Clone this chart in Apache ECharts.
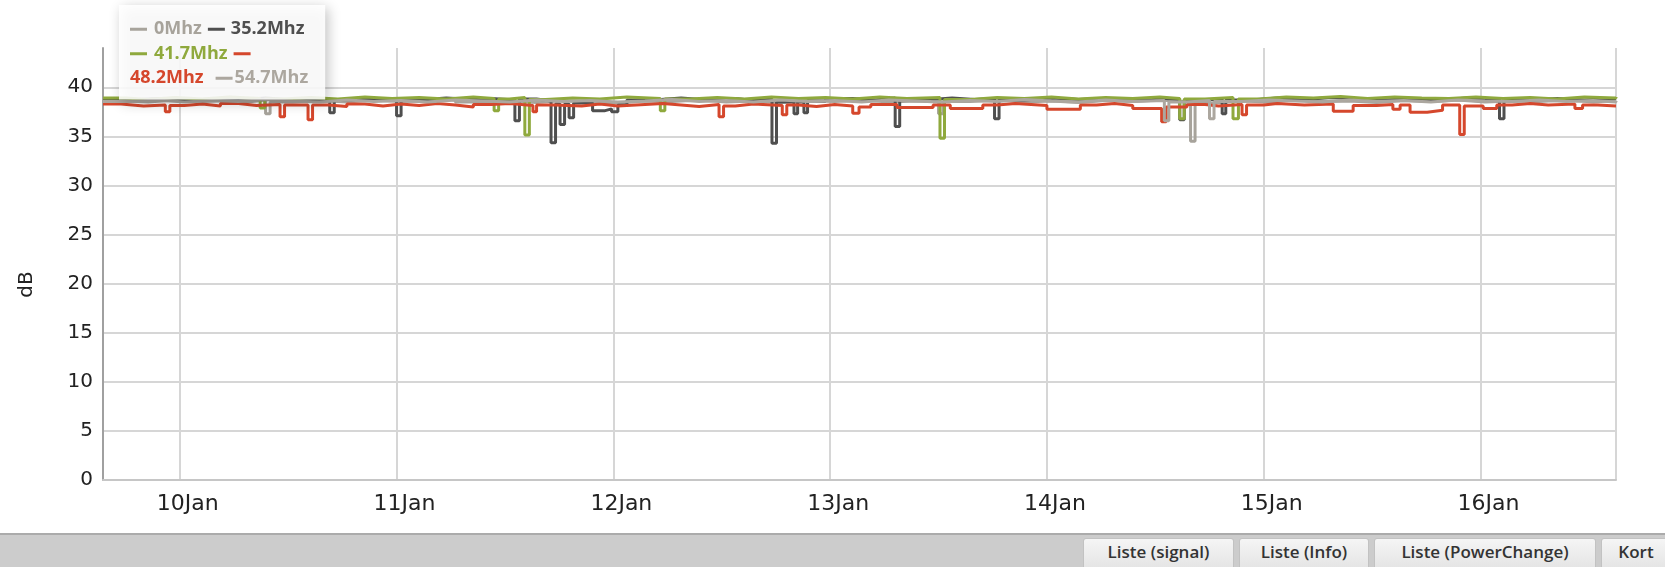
<!DOCTYPE html>
<html>
<head>
<meta charset="utf-8">
<title>dB</title>
<script src="https://cdn.jsdelivr.net/npm/echarts@6/dist/echarts.min.js"></script>
<style>
  html, body { margin: 0; padding: 0; background: #fff; }
  #page { position: relative; width: 1665px; height: 567px; overflow: hidden; }
  #chart { position: absolute; left: 0; top: 0; width: 1665px; height: 533px; }
  .bar {
    position: absolute; left: 0; top: 533px; width: 1665px; height: 34px;
    background: #cccccc; border-top: 2px solid #ababab; box-sizing: border-box;
  }
  .btn {
    position: absolute; top: 3px; height: 34px; line-height: 25px;
    box-sizing: border-box; text-align: center;
    font-family: 'Open Sans', sans-serif; font-weight: 600; font-size: 17px; color: #333;
    background: linear-gradient(#f5f5f5, #e3e3e3);
    border: 1px solid #c2c2c2; border-radius: 3px 3px 0 0;
  }
</style>
</head>
<body>
<div id="page">
  <div id="chart"></div>
  <div class="bar">
    <div class="btn" style="left:1083px;width:151px">Liste (signal)</div>
    <div class="btn" style="left:1239px;width:130px">Liste (Info)</div>
    <div class="btn" style="left:1374px;width:222px">Liste (PowerChange)</div>
    <div class="btn" style="left:1601px;width:70px">Kort</div>
  </div>
</div>
<script>
// ===== 系列 =====
const seriesNames  = ['0Mhz', '35.2Mhz', '41.7Mhz', '48.2Mhz', '54.7Mhz']
const seriesColors = ['#a7a39b', '#4f4f4f', '#8fa93d', '#d5472c', '#aca79f']
const monthNames   = ['Jan', 'Feb', 'Mar', 'Apr', 'May', 'Jun', 'Jul', 'Aug', 'Sep', 'Oct', 'Nov', 'Dec']

// x range: 9 Jan 15:30 -> 16 Jan 15:00
const startTime = new Date(2015, 0, 9, 15, 30).getTime()
const endTime   = new Date(2015, 0, 16, 15, 0).getTime()

// [hours after start, dB]
const data0Mhz = [
  [0, 38.6], [2.5, 38.5], [5, 38.7], [8, 38.55], [11, 38.65], [14, 38.5], [16, 38.7], [18, 37.3],
  [18.5, 38.5], [21, 38.65], [24, 38.5], [27, 38.7], [30, 38.55], [33, 38.6], [36, 38.75], [39, 38.5],
  [42, 38.6], [45, 38.45], [48, 38.65], [51, 38.5], [54, 38.4], [57, 38.6], [60, 38.55], [63, 38.7],
  [66, 38.5], [69, 38.6], [72, 38.45], [75, 38.65], [78, 38.55], [81, 38.7], [84, 38.5], [87, 38.6],
  [90, 38.5], [92.5, 37.3], [93, 38.55], [96, 38.7], [99, 38.5], [102, 38.6], [105, 38.45],
  [108, 38.65], [111, 38.55], [114, 38.7], [117, 38.5], [120.4, 34.5], [120.9, 38.4], [123, 38.6],
  [126, 38.5], [129, 38.7], [132, 38.55], [135, 38.6], [138, 38.45], [141, 38.65], [144, 38.55],
  [147, 38.7], [150, 38.5], [153, 38.6], [156, 38.55], [159, 38.7], [162, 38.5], [165, 38.65],
  [167.5, 38.6]
]
const data35Mhz = [
  [0, 38.7], [3, 38.85], [6, 38.65], [9, 38.8], [12, 38.7], [15, 38.9], [18, 38.7], [21, 38.8],
  [25.1, 37.4], [25.6, 38.7], [28, 38.85], [30.5, 38.7], [32.5, 37.1], [33, 38.7], [35, 38.9],
  [38, 38.75], [41, 38.85], [43, 38.7], [45.6, 36.6], [46.1, 38.8], [48, 38.6], [49.6, 34.35],
  [50.1, 38.3], [50.6, 36.2], [51.1, 38.3], [51.6, 36.9], [52.1, 38.4], [54.2, 37.6], [55.5, 37.8],
  [56.3, 37.5], [57, 38.2], [58, 38.7], [61, 38.9], [64, 38.7], [67, 38.85], [70, 38.65], [72, 38.8],
  [74.06, 34.3], [74.56, 38.5], [76.5, 37.3], [76.9, 38.5], [77.6, 37.4], [78, 38.6], [80, 38.85],
  [83, 38.7], [85.5, 38.9], [87.7, 36.0], [88.2, 38.7], [91, 38.9], [94, 38.75], [96.5, 38.85],
  [98.7, 36.8], [99.2, 38.7], [102, 38.9], [105, 38.75], [108, 38.85], [111, 38.7], [114, 38.9],
  [117, 38.75], [119.2, 36.7], [119.7, 38.7], [122, 38.8], [123.9, 37.3], [124.3, 38.7], [127, 38.9],
  [130, 38.75], [133, 38.95], [136, 38.8], [139, 38.7], [142, 38.85], [145, 38.7], [148, 38.9],
  [151, 38.75], [153, 38.85], [154.6, 36.8], [155.1, 38.7], [158, 38.85], [161, 38.7], [164, 38.85],
  [167.5, 38.8]
]
const data41Mhz = [
  [0, 38.9], [2.5, 38.75], [5, 38.95], [8, 38.8], [11, 39.0], [14, 38.85], [17.4, 37.9], [17.9, 38.8],
  [20, 38.95], [23, 38.8], [26, 39.0], [29, 38.85], [32, 38.95], [35, 38.8], [38, 39.0], [41, 38.85],
  [43.3, 37.6], [43.8, 38.8], [45, 38.95], [46.7, 35.15], [47.2, 38.75], [49, 38.9], [52, 38.8],
  [55, 39.0], [58, 38.85], [61.7, 37.6], [62.2, 38.8], [65, 38.95], [68, 38.8], [71, 39.0],
  [74, 38.85], [77, 38.95], [80, 38.8], [83, 39.0], [86, 38.85], [89, 38.95], [92.66, 34.8],
  [93.16, 38.75], [96, 38.95], [99, 38.85], [102, 39.0], [105, 38.8], [108, 38.95], [111, 38.85],
  [114, 39.0], [117, 38.85], [119.2, 36.8], [119.7, 38.8], [122, 38.95], [125.1, 36.8], [125.7, 38.8],
  [128, 39.0], [131, 38.9], [134, 39.05], [137, 38.85], [140, 39.0], [143, 38.9], [146, 38.85],
  [149, 39.0], [152, 38.85], [155, 38.95], [158, 38.8], [161, 39.0], [164, 38.9], [167.5, 39.0]
]
const data48Mhz = [
  [0, 38.3], [2, 38.1], [4.5, 38.2], [6.9, 37.5], [7.4, 38.15], [9, 38.3], [11, 38.1], [13, 38.35],
  [15, 38.15], [17, 38.25], [19.6, 37.0], [20.1, 38.2], [22.7, 36.7], [23.2, 38.2], [25, 38.05],
  [27, 38.3], [29, 38.1], [31, 38.3], [33, 38.15], [35, 38.35], [37, 38.2], [39, 38.0], [41, 38.25],
  [43, 38.35], [45, 38.15], [47.6, 37.5], [48, 38.2], [50, 38.1], [53, 38.3], [55, 38.1], [57, 38.25],
  [60, 38.35], [62, 38.2], [64, 38.05], [66, 38.25], [68.2, 37.0], [68.7, 38.1], [70, 38.3],
  [72, 38.15], [75.2, 37.2], [75.7, 38.2], [77, 38.05], [79, 38.25], [81, 38.1], [83, 37.35],
  [83.7, 38.0], [85, 38.25], [87.9, 37.95], [91.9, 38.2], [93.8, 37.85], [97.4, 38.2], [99, 38.35],
  [101, 38.15], [104.5, 37.75], [108.2, 38.2], [110, 38.35], [112, 38.15], [114, 37.85], [117.2, 36.5],
  [117.7, 38.0], [120, 38.25], [122, 38.1], [123.5, 38.25], [126.1, 37.2], [126.6, 38.2],
  [128.5, 38.35], [130, 38.2], [133, 38.3], [136.2, 37.55], [138.4, 38.15], [141, 38.25],
  [142.8, 37.75], [143.6, 38.2], [144.7, 37.45], [146.6, 37.65], [148.3, 38.2], [150.2, 35.2],
  [150.7, 38.1], [152.8, 37.85], [154.3, 38.2], [156, 38.35], [158, 38.2], [160, 38.3],
  [162.95, 37.85], [163.8, 38.2], [165.5, 38.1], [167.5, 38.15]
]
const data54Mhz = [
  [0, 38.55], [3, 38.7], [6, 38.5], [9, 38.65], [12, 38.55], [15, 38.75], [18, 38.6], [21, 38.5],
  [24, 38.7], [27, 38.55], [30, 38.65], [33, 38.5], [36, 38.7], [39, 38.6], [42, 38.5], [45, 38.7],
  [48, 38.55], [51, 38.65], [54, 38.5], [57, 38.6], [60, 38.75], [63, 38.55], [66, 38.65], [69, 38.5],
  [72, 38.7], [75, 38.55], [78, 38.65], [81, 38.5], [84, 38.7], [87, 38.6], [90, 38.5], [93, 38.65],
  [96, 38.55], [99, 38.75], [102, 38.6], [105, 38.5], [108, 38.7], [111, 38.55], [114, 38.65],
  [117.5, 36.6], [118, 38.5], [120, 38.65], [122.5, 36.8], [123, 38.55], [126, 38.7], [129, 38.6],
  [132, 38.5], [135, 38.7], [138, 38.55], [141, 38.65], [144, 38.5], [147, 38.7], [150, 38.6],
  [153, 38.55], [156, 38.7], [159, 38.55], [162, 38.65], [165, 38.5], [167.5, 38.6]
]
const seriesData = [data0Mhz, data35Mhz, data41Mhz, data48Mhz, data54Mhz]

const toPoints = pairs => pairs.map(([h, v]) => [startTime + h * 3600000, v])

// ===== legend box (rich text) =====
const legendRich = {}
seriesNames.forEach((n, i) => {
  legendRich['t' + i] = { color: seriesColors[i], fontFamily: 'Open Sans', fontWeight: 'bold', fontSize: 18, lineHeight: 24.5 }
  legendRich['i' + i] = { width: 17, height: 3, backgroundColor: seriesColors[i], verticalAlign: 'middle' }
})
;[2, 6, 7, 12].forEach(w => { legendRich['s' + w] = { width: w, height: 1 } })
const icon = i => `{i${i}|}`
const label = i => `{t${i}|${seriesNames[i]}}`
const legendText = [
  `${icon(0)}{s7|}${label(0)}{s6|}${icon(1)}{s6|}${label(1)}`,
  `${icon(2)}{s7|}${label(2)}{s6|}${icon(3)}`,
  `${label(3)}{s12|}${icon(4)}{s2|}${label(4)}`
].join('\n')

const chart = echarts.init(document.getElementById('chart'))
chart.setOption({
  animation: false,
  title: {
    text: legendText,
    left: 119,
    top: 5,
    z: 10,
    padding: [12, 17, 9, 11],
    backgroundColor: 'rgba(255,255,255,0.88)',
    shadowBlur: 12,
    shadowColor: 'rgba(0,0,0,0.28)',
    shadowOffsetX: 3,
    shadowOffsetY: 3,
    textStyle: { lineHeight: 24.5, rich: legendRich }
  },
  grid: { left: 103, right: 49, top: 48, bottom: 53, outerBoundsMode: 'none' },
  xAxis: {
    type: 'time',
    min: startTime,
    max: endTime,
    minInterval: 86400000,
    maxInterval: 86400000,
    axisLine: { lineStyle: { color: '#c6c6c6', width: 2 } },
    axisTick: { show: false },
    splitLine: { show: true, lineStyle: { color: '#d6d6d6', width: 2 } },
    axisLabel: {
      color: '#222',
      fontFamily: 'DejaVu Sans',
      fontSize: 22,
      margin: 13,
      padding: [0, 0, 0, 16],
      formatter: v => {
        const d = new Date(v)
        return d.getDate() + monthNames[d.getMonth()]
      }
    }
  },
  yAxis: {
    type: 'value',
    min: 0,
    max: 44,
    interval: 5,
    name: 'dB',
    nameLocation: 'middle',
    nameGap: 66,
    nameTextStyle: { color: '#222', fontFamily: 'DejaVu Sans', fontSize: 20, padding: [0, 41, 0, 0] },
    axisLine: { show: true, lineStyle: { color: '#a0a0a0', width: 2 } },
    axisTick: { show: false },
    splitLine: { show: true, showMaxLine: false, lineStyle: { color: '#d6d6d6', width: 2 } },
    axisLabel: { color: '#222', fontFamily: 'DejaVu Sans', fontSize: 20, margin: 10, showMaxLabel: false }
  },
  series: seriesNames.map((name, i) => ({
    name,
    type: 'line',
    step: 'end',
    showSymbol: false,
    symbol: 'none',
    data: toPoints(seriesData[i]),
    lineStyle: { color: seriesColors[i], width: 3 },
    itemStyle: { color: seriesColors[i] }
  }))
})
</script>
</body>
</html>
